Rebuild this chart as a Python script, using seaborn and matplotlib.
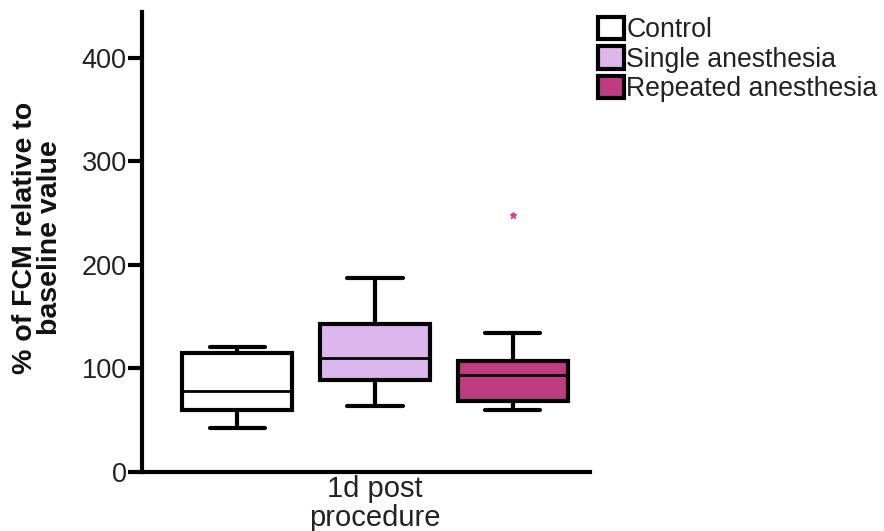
import numpy as np
import pandas as pd
import matplotlib
matplotlib.use("Agg")
import matplotlib.pyplot as plt
import seaborn as sns

# ---- data ----
groups = ["Control", "Single anesthesia", "Repeated anesthesia"]
timepoint = "1d post\nprocedure"
control_vals = [43, 52, 60, 70, 78, 95, 115, 118, 121]
single_vals = [64, 78, 89, 100, 110, 125, 143, 165, 187]
repeated_vals = [60, 65, 69, 82, 94, 100, 107, 134, 248]
colors = ["#FFFFFF", "#DDB6EE", "#C03C80"]
y_ticks = [0, 100, 200, 300, 400]

values = {"Control": control_vals, "Single anesthesia": single_vals,
          "Repeated anesthesia": repeated_vals}
df = pd.DataFrame([(timepoint, g, v) for g in groups for v in values[g]],
                  columns=["time", "group", "value"])

sns.set_style("white")
plt.rcParams["font.family"] = ["Liberation Sans", "DejaVu Sans"]

fig = plt.figure(figsize=(8.84, 5.31), dpi=100)
ax = fig.add_axes([0.1606, 0.111, 0.5068, 0.866])

sns.boxplot(data=df, x="time", y="value", hue="group", hue_order=groups,
            palette=colors, saturation=1, width=0.8, gap=0.2, whis=1.5, ax=ax,
            linecolor="black", linewidth=3,
            medianprops=dict(linewidth=2, color="black"),
            flierprops=dict(marker="*", markersize=5, markerfacecolor="#D0408F",
                            markeredgecolor="#D0408F"),
            legend=True)

ax.set_ylim(0, 444)
ax.set_xlim(-0.451, 0.416)
ax.set_yticks(y_ticks)
ax.set_yticklabels([str(t) for t in y_ticks], fontsize=19.5, color="#222222")
ax.tick_params(axis="y", length=10, width=3, color="black", pad=1, left=True)
ax.tick_params(axis="x", length=0, labelsize=21, labelcolor="#222222", pad=2)
for lab in ax.get_xticklabels():
    lab.set_linespacing(1.05)
ax.set_xlabel("")
ax.set_ylabel("% of FCM relative to\nbaseline value", fontsize=20.5,
              fontweight="bold", color="#111111", linespacing=0.95)
ax.yaxis.set_label_coords(-0.176, 0.509)

for side in ["top", "right"]:
    ax.spines[side].set_visible(False)
for side in ["left", "bottom"]:
    ax.spines[side].set_linewidth(3)
    ax.spines[side].set_color("black")

handles, labels = ax.get_legend_handles_labels()
ax.get_legend().remove()
for h in handles:
    h.set_edgecolor("black")
    h.set_linewidth(3)
leg = fig.legend(handles, labels, loc="upper left", bbox_to_anchor=(0.677, 0.968),
                 bbox_transform=fig.transFigure, frameon=False, fontsize=19.2,
                 handlelength=0.95, handleheight=0.9, handletextpad=0.1,
                 labelspacing=0.12, borderaxespad=0, borderpad=0)
for t in leg.get_texts():
    t.set_color("#222222")

fig.savefig("out.png", dpi=100)
